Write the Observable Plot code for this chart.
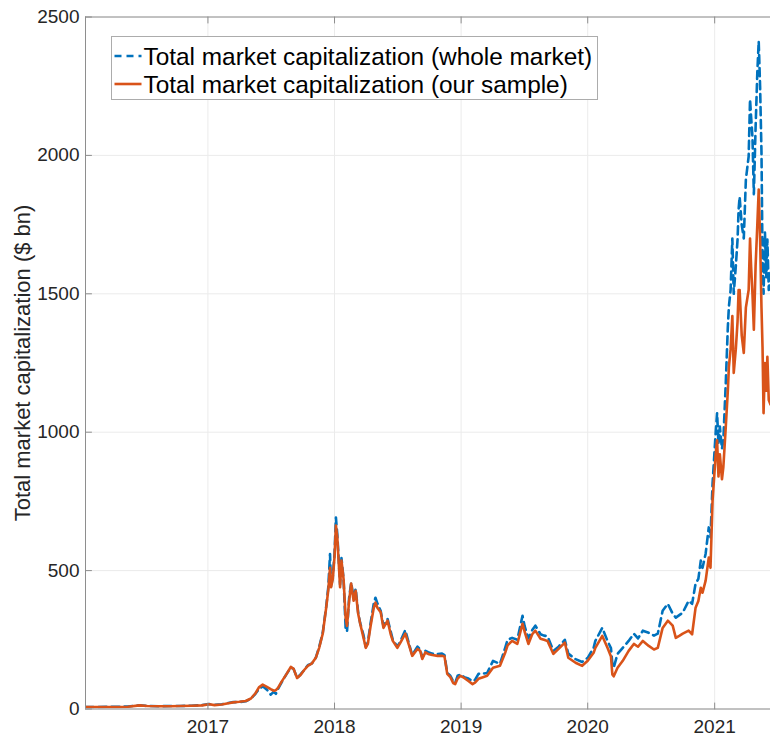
<!DOCTYPE html>
<html>
<head>
<meta charset="utf-8">
<script src="https://cdn.jsdelivr.net/npm/d3@7"></script>
<script src="https://cdn.jsdelivr.net/npm/@observablehq/plot@0.6"></script>
<style>
  html, body { margin: 0; padding: 0; background: #fff; }
  #wrap { position: relative; width: 770px; height: 740px; }
  #legend { position: absolute; left: 0; top: 0; pointer-events: none; }
</style>
</head>
<body>
<div id="wrap"></div>
<script>
// ---- data, $ bn ----
const dates = [
  "2016-01-14","2016-02-15","2016-03-15","2016-04-15","2016-05-15","2016-06-18","2016-07-10","2016-08-15",
  "2016-09-15","2016-10-15","2016-11-15","2016-12-15","2017-01-05","2017-01-20","2017-02-10","2017-03-01",
  "2017-03-15","2017-04-01","2017-04-20","2017-05-05","2017-05-18","2017-05-28","2017-06-08","2017-06-20",
  "2017-07-01","2017-07-10","2017-07-16","2017-07-22","2017-08-01","2017-08-15","2017-08-28","2017-09-05",
  "2017-09-15","2017-09-25","2017-10-05","2017-10-16","2017-10-28","2017-11-08","2017-11-18","2017-11-28",
  "2017-12-08","2017-12-14","2017-12-19","2017-12-22","2017-12-27","2018-01-01","2018-01-05","2018-01-09",
  "2018-01-13","2018-01-17","2018-01-21","2018-01-27","2018-02-02","2018-02-06","2018-02-12","2018-02-18",
  "2018-02-25","2018-03-03","2018-03-10","2018-03-16","2018-03-25","2018-04-01","2018-04-07","2018-04-15",
  "2018-04-24","2018-04-29","2018-05-05","2018-05-14","2018-05-22","2018-06-03","2018-06-12","2018-06-18",
  "2018-07-01","2018-07-10","2018-07-24","2018-08-05","2018-08-13","2018-08-28","2018-09-05","2018-09-11",
  "2018-09-20","2018-09-28","2018-10-10","2018-10-25","2018-11-07","2018-11-14","2018-11-22","2018-12-01",
  "2018-12-09","2018-12-15","2018-12-22","2018-12-30","2019-01-10","2019-01-22","2019-02-03","2019-02-10",
  "2019-02-20","2019-03-05","2019-03-17","2019-04-03","2019-04-23","2019-05-08","2019-05-15","2019-05-28",
  "2019-06-12","2019-06-27","2019-07-03","2019-07-14","2019-07-25","2019-08-03","2019-08-18","2019-08-28",
  "2019-09-07","2019-09-24","2019-10-09","2019-10-27","2019-11-06","2019-11-27","2019-12-16","2020-01-01",
  "2020-01-18","2020-01-23","2020-02-12","2020-02-27","2020-03-08","2020-03-12","2020-03-16","2020-03-27",
  "2020-04-11","2020-04-28","2020-05-13","2020-05-25","2020-06-08","2020-06-25","2020-07-10","2020-07-21",
  "2020-08-04","2020-08-19","2020-09-02","2020-09-11","2020-09-22","2020-10-01","2020-10-18","2020-10-28",
  "2020-11-07","2020-11-15","2020-11-22","2020-11-27","2020-12-06","2020-12-15","2020-12-20","2020-12-26",
  "2021-01-04","2021-01-08","2021-01-12","2021-01-16","2021-01-22","2021-01-26","2021-02-02",
  "2021-02-08","2021-02-11","2021-02-16","2021-02-21","2021-02-25","2021-03-03","2021-03-08","2021-03-11",
  "2021-03-14","2021-03-20","2021-03-26","2021-04-01","2021-04-09","2021-04-13","2021-04-16","2021-04-20",
  "2021-04-24","2021-04-29","2021-05-04","2021-05-08","2021-05-12","2021-05-16","2021-05-19","2021-05-22",
  "2021-05-26","2021-05-30","2021-06-02","2021-06-06","2021-06-11"
];
const wholeMarket = [
  7,7,8,8,9,13,11,10,
  11,11,12,14,18,15,17,22,
  25,25,28,37,55,72,82,70,
  52,62,55,72,95,125,150,145,
  112,125,140,158,165,185,225,275,
  370,440,560,440,480,560,692,630,
  540,450,545,470,293,280,400,457,
  400,435,350,310,270,225,240,310,
  380,402,380,355,300,325,280,250,
  225,245,285,230,195,225,215,185,
  210,205,200,198,200,195,130,120,
  100,95,120,125,115,110,100,105,
  127,128,130,174,163,221,250,257,
  250,337,300,255,285,301,270,265,
  263,210,225,250,200,180,170,185,
  221,246,293,246,220,163,150,199,
  221,246,272,255,283,275,265,272,
  355,380,344,330,340,348,391,380,
  453,470,536,510,561,656,620,815,
  1000,1069,960,1020,940,971,1177,
  1380,1453,1514,1700,1500,1600,1696,1804,
  1850,1750,1700,1913,1996,2203,2141,2065,
  1860,2100,2300,2413,2250,2011,1620,1500,
  1721,1560,1696,1514,1576
];
const ourSample = [
  7,7,7,7,8,13,11,10,
  10,11,12,13,17,14,16,21,
  24,26,29,38,57,78,88,80,
  72,66,68,76,98,125,152,145,
  112,123,140,156,165,185,222,272,
  366,430,510,440,470,550,663,620,
  530,440,536,470,330,300,390,453,
  391,427,345,308,260,221,235,300,
  365,384,365,350,293,319,270,246,
  221,240,272,225,192,217,210,181,
  205,199,195,192,192,190,127,115,
  94,90,110,120,112,101,90,95,
  109,115,120,149,156,203,230,246,
  235,308,280,235,270,283,254,250,
  246,199,217,240,185,167,156,174,
  203,221,264,221,190,125,118,149,
  174,210,235,225,246,228,215,221,
  293,319,301,257,265,272,283,270,
  366,390,438,420,464,547,510,754,
  920,971,840,920,830,873,1018,
  1150,1235,1300,1420,1214,1300,1400,1514,
  1514,1350,1286,1450,1514,1700,1600,1500,
  1370,1600,1750,1877,1700,1450,1308,1069,
  1250,1150,1272,1116,1100
];
const yTicks = [0, 500, 1000, 1500, 2000, 2500];
const xTickYears = ["2017-01-01","2018-01-01","2019-01-01","2020-01-01","2021-01-01"];
const xDomain = ["2016-01-14", "2021-06-11"];
const seriesNames = ["Total market capitalization (whole market)", "Total market capitalization (our sample)"];
const yLabel = "Total market capitalization ($ bn)";

// ---- build tables ----
const parse = d3.utcParse("%Y-%m-%d");
const whole = dates.map((d, i) => ({date: parse(d), value: wholeMarket[i]}));
const sample = dates.map((d, i) => ({date: parse(d), value: ourSample[i]}));
const xTicks = xTickYears.map(parse);
const xDom = xDomain.map(parse);

const blue = "#0072BD", orange = "#D95319";
const axisColor = "#8e8e8e", gridColor = "#ebebeb";
const tickShape = { draw(ctx, l) { ctx.moveTo(0, 0); ctx.lineTo(0, -l); } };
const font = "'Liberation Sans', Arial, Helvetica, sans-serif";

const chart = Plot.plot({
  width: 770,
  height: 740,
  marginLeft: 85,
  marginRight: 0,
  marginTop: 16.5,
  marginBottom: 31.5,
  style: {fontFamily: font, fontSize: "19px", color: "#262626", background: "#fff"},
  x: {type: "utc", domain: xDom},
  y: {domain: [0, 2500]},
  marks: [
    Plot.gridX(xTicks, {stroke: gridColor, strokeOpacity: 1}),
    Plot.gridY(yTicks, {stroke: gridColor, strokeOpacity: 1}),
    Plot.line(whole, {x: "date", y: "value", stroke: blue, strokeWidth: 2.6, strokeDasharray: "8,5", strokeLinejoin: "round", clip: true}),
    Plot.line(sample, {x: "date", y: "value", stroke: orange, strokeWidth: 2.6, strokeLinejoin: "round", clip: true}),
    Plot.ruleY([0, 2500], {stroke: axisColor}),
    Plot.ruleX([xDom[0]], {stroke: axisColor}),
    // inward ticks
    Plot.vector(xTicks, {x: d => d, y: 0, length: 6, rotate: 0, anchor: "start", shape: tickShape, stroke: axisColor, strokeWidth: 1}),
    Plot.vector(xTicks, {x: d => d, y: 2500, length: 6, rotate: 180, anchor: "start", shape: tickShape, stroke: axisColor, strokeWidth: 1}),
    Plot.vector(yTicks, {x: xDom[0], y: d => d, length: 6, rotate: 90, anchor: "start", shape: tickShape, stroke: axisColor, strokeWidth: 1}),
    Plot.axisX(xTicks, {tickFormat: "%Y", tickSize: 0, tickPadding: 10, label: null, fill: "#262626"}),
    Plot.axisY(yTicks, {tickFormat: d => String(d), tickSize: 0, tickPadding: 6, label: null, fill: "#262626"}),
    Plot.text([yLabel], {frameAnchor: "left", textAnchor: "middle", rotate: -90, dx: -63, fontSize: 22, fill: "#262626"})
  ]
});

const wrap = document.getElementById("wrap");
wrap.appendChild(chart);

// ---- legend overlay (inside the axes, top-left) ----
const ns = "http://www.w3.org/2000/svg";
const leg = document.createElementNS(ns, "svg");
leg.setAttribute("id", "legend");
leg.setAttribute("width", 770);
leg.setAttribute("height", 740);
const box = {x: 111.5, y: 36.5, w: 486, h: 63};
const rect = document.createElementNS(ns, "rect");
rect.setAttribute("x", box.x); rect.setAttribute("y", box.y);
rect.setAttribute("width", box.w); rect.setAttribute("height", box.h);
rect.setAttribute("fill", "#fff"); rect.setAttribute("stroke", "#acacac"); rect.setAttribute("stroke-width", 1);
leg.appendChild(rect);
const colors = [blue, orange];
const dashes = ["7,5", null];
seriesNames.forEach((name, i) => {
  const cy = box.y + 19.5 + i * 28;
  const ln = document.createElementNS(ns, "line");
  ln.setAttribute("x1", box.x + 3); ln.setAttribute("x2", box.x + 30);
  ln.setAttribute("y1", cy); ln.setAttribute("y2", cy);
  ln.setAttribute("stroke", colors[i]); ln.setAttribute("stroke-width", 2.6);
  if (dashes[i]) ln.setAttribute("stroke-dasharray", dashes[i]);
  leg.appendChild(ln);
  const t = document.createElementNS(ns, "text");
  t.setAttribute("x", box.x + 32);
  t.setAttribute("y", cy + 8.5);
  t.setAttribute("font-family", font);
  t.setAttribute("font-size", 24.4);
  t.setAttribute("fill", "#000");
  t.textContent = name;
  leg.appendChild(t);
});
wrap.appendChild(leg);
</script>
</body>
</html>
